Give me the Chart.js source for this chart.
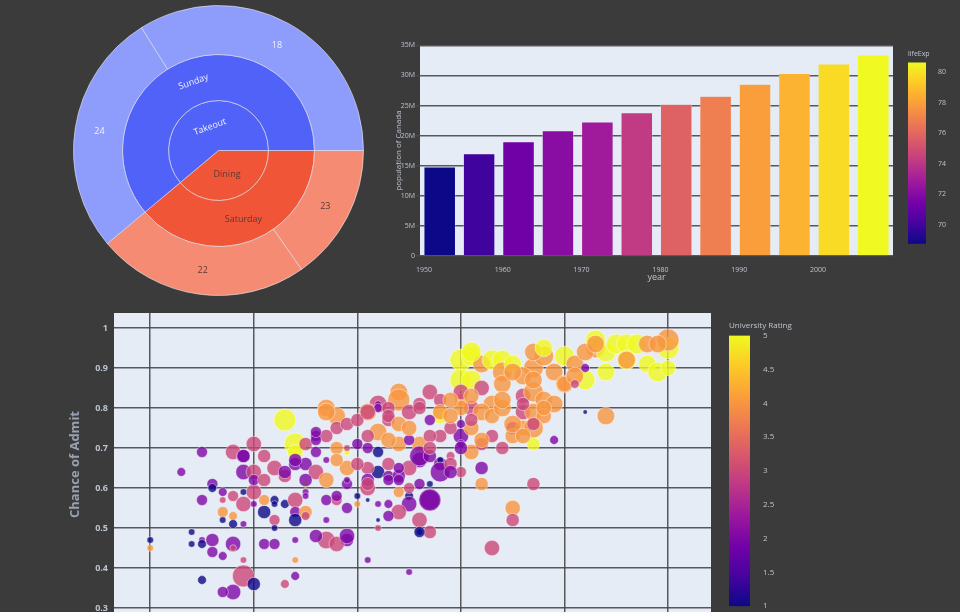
<!DOCTYPE html>
<html>
<head>
<meta charset="utf-8">
<script src="https://cdn.jsdelivr.net/npm/chart.js@4.4.1/dist/chart.umd.min.js"></script>
<style>
  html, body { margin: 0; padding: 0; background: #3b3b3b; width: 960px; height: 612px; overflow: hidden; }
  canvas { position: absolute; }
</style>
</head>
<body>
<canvas id="sunburst" width="291" height="291" style="left:73px;top:5px"></canvas>
<canvas id="popBars" width="520" height="280" style="left:380px;top:20px"></canvas>
<canvas id="lifeBar" width="52" height="206" style="left:908px;top:46px"></canvas>
<canvas id="admitScatter" width="700" height="330" style="left:40px;top:300px"></canvas>
<canvas id="ratingBar" width="80" height="300" style="left:729px;top:316px"></canvas>
<script>
// ---- sunburst: order type > day > leaf ----
const sunLeafLabels = ['23', '22', '24', '18'];
const sunLeafDay = ['Saturday', 'Saturday', 'Sunday', 'Sunday'];
const sunLeafValues = [15.3, 23.6, 27.2, 33.9];
const sunDays = ['Saturday', 'Sunday'];
const sunDayType = ['Dining', 'Takeout'];

// ---- Canada population (gapminder) ----
const canadaYears = [1952, 1957, 1962, 1967, 1972, 1977, 1982, 1987, 1992, 1997, 2002, 2007];
const canadaPop = [14785584, 17010154, 18985849, 20819767, 22284500, 23796400,
                   25201900, 26549700, 28523502, 30305843, 31902268, 33390141];
const canadaLifeExp = [68.75, 69.96, 71.3, 72.13, 72.88, 74.21, 75.76, 76.86, 77.95, 78.61, 79.77, 80.653];
const popTicks = [0, 5e6, 10e6, 15e6, 20e6, 25e6, 30e6, 35e6];
const yearTicks = [1950, 1960, 1970, 1980, 1990, 2000];
const lifeTicks = [70, 72, 74, 76, 78, 80];

// ---- admissions: GRE score, chance of admit, university rating, SOP ----
const admitGre = [
  290,290,295,293,296,296,297,295,297,298, 299,297,298,297,298,299,294,294,295,295,
  296,296,297,298,298,299,299,300,298,297, 295,301,302,304,304,304,303,301,302,302,
  302,301,303,304,304,304,305,305,300,299, 300,298,300,299,301,299,300,300,301,302,
  303,303,304,304,305,304,305,306,306,306, 307,307,308,308,307,308,309,309,309,309,
  307,308,306,307,307,308,310,310,310,309, 311,311,305,305,314,314,312,312,311,313,
  315,316,312,311,312,314,316,316,315,312, 313,314,311,311,314,312,313,315,315,317,
  316,314,313,312,312,316,315,309,320,320, 321,322,323,324,324,325,321,322,320,321,
  320,323,324,326,327,328,327,328,327,329, 330,331,332,330,329,332,332,334,333,334,
  334,335,336,337,338,339,340,340,340,338, 336,333,332,327,329,325,325,323,321,322,
  322,327,325,325,323,320,320,319,318,317, 317,312,318,316,318,317,319,320,317,317,
  316,322,321,323,324,326,327,328,326,327, 328,326,327,330,322,324,320,318,321,319,
  321,328,333,339,336,326,324,325,331,331, 321,325,327,320,317,320,318,318,322,326,
  303,304,306,306,307,309,310,308,307,305, 309,310,313,311,309,305,302,299,308,311,
  313,311,313,315,317,313,314,311,313,314, 319,319,316,317,315,314,316,315,318,319
];
const admitChance = [
  .47,.45,.69,.64,.61,.60,.59,.57,.57,.58, .56,.54,.53,.52,.51,.51,.49,.46,.47,.46,
  .47,.44,.43,.46,.45,.42,.38,.36,.34,.34, .37,.46,.46,.47,.42,.38,.36,.54,.52,.50,
  .57,.57,.56,.57,.54,.52,.54,.53,.59,.59, .56,.69,.71,.68,.68,.64,.64,.62,.62,.65,
  .63,.77,.71,.69,.71,.66,.66,.73,.69,.64, .62,.80,.78,.75,.73,.70,.65,.61,.55,.47,
  .47,.46,.48,.52,.57,.57,.58,.56,.71,.69, .42,.57,.61,.59,.84,.82,.81,.81,.79,.77,
  .79,.81,.74,.70,.69,.71,.71,.67,.65,.64, .63,.63,.65,.60,.59,.56,.56,.58,.56,.57,
  .52,.54,.53,.52,.50,.49,.39,.48,.92,.87, .93,.91,.92,.92,.89,.91,.87,.85,.82,.80,
  .84,.81,.86,.83,.84,.82,.90,.93,.94,.89, .93,.91,.87,.86,.81,.90,.79,.78,.95,.94,
  .89,.96,.96,.96,.91,.89,.95,.97,.90,.96, .92,.97,.94,.71,.72,.75,.73,.73,.69,.65,
  .61,.61,.55,.52,.45,.73,.71,.75,.78,.77, .84,.80,.73,.68,.66,.68,.68,.64,.57,.49,
  .49,.79,.75,.78,.80,.79,.79,.78,.75,.75, .80,.88,.87,.86,.71,.70,.80,.82,.83,.82,
  .94,.95,.96,.96,.92,.81,.82,.89,.88,.86, .77,.76,.76,.76,.73,.70,.67,.64,.72,.73,
  .64,.67,.72,.74,.79,.76,.77,.67,.67,.62, .70,.66,.72,.62,.62,.58,.56,.68,.58,.79,
  .80,.73,.78,.72,.70,.66,.65,.61,.62,.62, .66,.64,.61,.61,.60,.76,.80,.75,.79,.78
];
const admitRating = [
  1,4,2,2,2,1,2,2,3,3, 3,4,4,1,1,2,1,1,2,1,
  2,2,2,2,3,3,3,1,2,2, 1,2,2,2,4,2,3,1,3,1,
  1,4,1,3,2,1,4,3,3,1, 2,3,3,2,3,2,3,2,3,3,
  3,5,5,5,3,2,2,2,2,3, 4,4,4,3,3,4,4,2,2,2,
  3,3,2,2,2,3,1,4,2,5, 2,1,5,2,4,4,3,2,4,3,
  3,3,4,2,1,4,4,2,3,1, 2,2,3,3,4,2,2,1,2,2,
  3,3,2,1,3,1,2,2,5,5, 5,4,5,5,4,5,5,3,4,3,
  3,4,4,3,4,4,4,4,4,4, 5,4,5,4,4,2,1,4,4,5,
  5,5,5,5,5,5,5,4,5,4, 5,5,4,5,2,2,4,3,4,2,
  4,3,4,3,3,2,2,3,5,2, 3,2,3,2,2,2,3,3,2,3,
  1,4,4,4,4,3,4,4,4,4, 4,4,4,4,3,3,4,3,4,4,
  5,5,4,4,4,3,4,4,4,3, 3,4,3,2,3,2,1,2,4,4,
  2,2,2,2,4,3,3,4,2,2, 3,3,4,2,2,2,1,2,2,3,
  3,3,3,2,3,3,2,3,2,2, 3,2,2,1,3,4,3,4,4,4
];
const admitSop = [
  1.5,1.5,2.5,2,2.5,2,2,2.5,1.5,2.5, 3.5,2.5,2,1.5,2,1.5,1.5,1.5,1.5,2,
  3,2.5,2,3.5,1.5,1.5,5,3,3.5,2.5, 2,2.5,2.5,1.5,1.5,2,2,3,2.5,1.5,
  2,2.5,2,3.5,2.5,3,3,2,3.5,1.5, 1.5,3.5,3.5,3,3,3.5,3.5,2.5,3,3.5,
  3,5,5,3.5,3,3,3,2.5,2.5,3.5, 3.5,4,4,3,3,3,3.5,2.5,2.5,3,
  4,3.5,3,1.5,2.5,2.5,1.5,1.5,2.5,1.5, 1.5,1,1.5,1.5,4,5,4,1.5,4,3,
  3.5,3,4,2.5,2.5,3.5,3.5,3.5,3.5,3, 2.5,3,3,3.5,2.5,1.5,2,2,3.5,4.5,
  3.5,3.5,2.5,1,1.5,1.5,1.5,3.5,5,5, 4.5,4,4.5,4.5,4.5,4,4.5,3.5,3,3.5,
  3.5,4,4,3.5,4.5,4,4.5,4.5,4,4, 4.5,4,4.5,4,4,2,1,4,4.5,4.5,
  4,4.5,4.5,4.5,4,4.5,5,5,3.5,4, 4.5,4.5,4,3,2,3,3.5,3,3.5,3,
  3,3,3.5,3,3.5,3.5,2,3,3.5,2.5, 3.5,2,3,4.5,3,3,2,2.5,5,3,
  2.5,4,3.5,3.5,4,3.5,4,3.5,3.5,4.5, 3.5,4,4,3.5,3,3,3.5,3,3.5,3.5,
  4.5,4,4,4,4,3,4,4,4,2, 3,4,3,2,3,3,1.5,4.5,3.5,3.5,
  3,3,2.5,2.5,4,3,3,3,1.5,3, 1.5,3,3.5,3,1.5,1.5,1.5,3,2.5,3.5,
  3,3,3,2.5,3,3,2.5,3,2.5,2.5, 3,3,2.5,1.5,2.5,3.5,3,3.5,3.5,3.5
];
const greTicks = [290, 300, 310, 320, 330, 340];
const chanceTicks = [0.3, 0.4, 0.5, 0.6, 0.7, 0.8, 0.9, 1];
const ratingTicks = [1, 1.5, 2, 2.5, 3, 3.5, 4, 4.5, 5];

// ---- styles ----
const plasmaStops = ['#0d0887', '#46039f', '#7201a8', '#9c179e', '#bd3786',
                     '#d8576b', '#ed7953', '#fb9f3a', '#fdca26', '#f0f921'];
const fontFamily = '"Open Sans", "Liberation Sans", sans-serif';
const tickColor = '#bcc4d2';
const gridColor = 'rgba(72,72,72,0.9)';
const plotBgColor = '#e5ecf6';
const typeColors = { Dining: '#ef5536', Takeout: '#5062f8' };
const leafColors = { Dining: '#f68b74', Takeout: '#8e9cfb' };
const tangentialLabels = ['Takeout', 'Sunday'];
const plainNumber = v => String(Math.round(v * 100) / 100);

function hexToRgb(h) {
  return [parseInt(h.slice(1, 3), 16), parseInt(h.slice(3, 5), 16), parseInt(h.slice(5, 7), 16)];
}

function plasma(t, alpha) {
  t = Math.min(1, Math.max(0, t));
  const n = plasmaStops.length - 1;
  const i = Math.min(n - 1, Math.floor(t * n));
  const f = t * n - i;
  const a = hexToRgb(plasmaStops[i]), b = hexToRgb(plasmaStops[i + 1]);
  const c = a.map((v, k) => Math.round(v + (b[k] - v) * f));
  return 'rgba(' + c[0] + ',' + c[1] + ',' + c[2] + ',' + (alpha === undefined ? 1 : alpha) + ')';
}

const plotBg = {
  id: 'plotBg',
  beforeDraw(chart) {
    const a = chart.chartArea;
    const ctx = chart.ctx;
    ctx.save();
    ctx.fillStyle = plotBgColor;
    ctx.fillRect(a.left, a.top, a.width, a.height);
    ctx.restore();
  }
};

// ---- sunburst ----
const leafType = sunLeafDay.map(d => sunDayType[sunDays.indexOf(d)]);
const dayValues = sunDays.map(d => sunLeafValues.filter((v, i) => sunLeafDay[i] === d).reduce((s, v) => s + v, 0));
const typeValues = dayValues.slice();

const sunLabels = {
  id: 'sunLabels',
  afterDatasetsDraw(chart) {
    const ctx = chart.ctx;
    chart.data.datasets.forEach((ds, di) => {
      chart.getDatasetMeta(di).data.forEach((arc, i) => {
        const p = arc.getCenterPoint();
        const mid = (arc.startAngle + arc.endAngle) / 2;
        ctx.save();
        ctx.translate(p.x, p.y);
        if (tangentialLabels.includes(ds.names[i])) {
          let rot = mid + Math.PI / 2;
          while (rot > Math.PI) rot -= 2 * Math.PI;
          if (rot > Math.PI / 2) rot -= Math.PI;
          if (rot < -Math.PI / 2) rot += Math.PI;
          ctx.rotate(rot);
        }
        ctx.fillStyle = ds.textColors[i];
        ctx.font = ds.fontSize + 'px ' + fontFamily;
        ctx.textAlign = 'center';
        ctx.textBaseline = 'middle';
        ctx.fillText(ds.names[i], 0, 0);
        ctx.restore();
      });
    });
  }
};

const textOn = t => t === 'Takeout' ? '#f2f3ff' : '#5a3b36';
const ringBorder = 'rgba(235,235,240,0.6)';

new Chart(document.getElementById('sunburst'), {
  type: 'pie',
  data: {
    labels: sunLeafLabels,
    datasets: [
      { data: sunLeafValues, names: sunLeafLabels, weight: 49, fontSize: 9,
        backgroundColor: leafType.map(t => leafColors[t]), textColors: leafType.map(textOn),
        borderColor: ringBorder, borderWidth: 1 },
      { data: dayValues, names: sunDays, weight: 46, fontSize: 9,
        backgroundColor: sunDayType.map(t => typeColors[t]), textColors: sunDayType.map(textOn),
        borderColor: ringBorder, borderWidth: 1 },
      { data: typeValues, names: sunDayType, weight: 50, fontSize: 9,
        backgroundColor: sunDayType.map(t => typeColors[t]), textColors: sunDayType.map(textOn),
        borderColor: ringBorder, borderWidth: 1 }
    ]
  },
  options: {
    responsive: false,
    animation: false,
    rotation: 90,
    layout: { padding: 0 },
    plugins: { legend: { display: false }, tooltip: { enabled: false } }
  },
  plugins: [sunLabels]
});

// ---- population bars ----
const lifeMin = Math.min(...canadaLifeExp), lifeMax = Math.max(...canadaLifeExp);

new Chart(document.getElementById('popBars'), {
  type: 'bar',
  data: {
    datasets: [{
      data: canadaYears.map((y, i) => ({ x: y, y: canadaPop[i] })),
      backgroundColor: canadaLifeExp.map(v => plasma((v - lifeMin) / (lifeMax - lifeMin))),
      borderColor: plotBgColor,
      borderWidth: 0.5,
      barPercentage: 0.8,
      categoryPercentage: 1
    }]
  },
  options: {
    responsive: false,
    animation: false,
    layout: { padding: { top: 25, right: 7, left: 0, bottom: 0 } },
    plugins: { legend: { display: false }, tooltip: { enabled: false } },
    scales: {
      x: {
        type: 'linear', min: 1949.5, max: 2009.5, offset: false,
        afterBuildTicks: s => { s.ticks = yearTicks.map(v => ({ value: v })); },
        afterFit: s => { s.height = 44; },
        grid: { display: false }, border: { display: false },
        ticks: { color: tickColor, font: { family: fontFamily, size: 7 }, padding: 2, maxRotation: 0, callback: v => String(v) },
        title: { display: true, text: 'year', color: tickColor, font: { family: fontFamily, size: 9 }, padding: { top: 0, bottom: 17 } }
      },
      y: {
        min: 0, max: 35.06e6,
        afterBuildTicks: s => { s.ticks = popTicks.map(v => ({ value: v })); },
        afterFit: s => { s.width = 40; },
        grid: { color: gridColor, lineWidth: 1.5, tickLength: 4 },
        border: { display: false },
        ticks: { color: tickColor, font: { family: fontFamily, size: 7 }, padding: 1, callback: v => v === 0 ? '0' : (v / 1e6) + 'M' },
        title: { display: true, text: 'population of Canada', color: tickColor, font: { family: fontFamily, size: 8 }, padding: { top: 14, bottom: 0 } }
      }
    }
  },
  plugins: [plotBg]
});

// ---- colour bars ----
function makeColorbar(id, min, max, ticks, title, barWidth, fontSize, titlePad, labelPad, bottomPad) {
  const canvas = document.getElementById(id);
  return new Chart(canvas, {
    type: 'bar',
    data: {
      labels: [''],
      datasets: [{
        data: [[min, max]],
        barPercentage: 1, categoryPercentage: 1, borderWidth: 0,
        backgroundColor: c => {
          const a = c.chart.chartArea;
          if (!a) return plasmaStops[0];
          const g = c.chart.ctx.createLinearGradient(0, a.bottom, 0, a.top);
          plasmaStops.forEach((s, i) => g.addColorStop(i / (plasmaStops.length - 1), s));
          return g;
        }
      }]
    },
    options: {
      responsive: false,
      animation: false,
      layout: { padding: { top: 0, left: 0, right: 0, bottom: bottomPad } },
      plugins: {
        legend: { display: false }, tooltip: { enabled: false },
        title: { display: true, text: title, align: 'start', color: tickColor,
                 font: { family: fontFamily, size: fontSize, weight: 'normal' }, padding: titlePad }
      },
      scales: {
        x: { display: false },
        y: {
          position: 'right', min: min, max: max,
          afterBuildTicks: s => { s.ticks = ticks.map(v => ({ value: v })); },
          afterFit: s => { s.width = canvas.width - barWidth; },
          grid: { display: false }, border: { display: false },
          ticks: { color: tickColor, font: { family: fontFamily, size: fontSize }, padding: labelPad, callback: plainNumber }
        }
      }
    }
  });
}

makeColorbar('lifeBar', lifeMin, lifeMax, lifeTicks, 'lifeExp', 18, 7, { top: 4, bottom: 4 }, 4, 3);

// ---- admissions scatter ----
new Chart(document.getElementById('admitScatter'), {
  type: 'bubble',
  data: {
    datasets: [{
      data: admitGre.map((g, i) => ({ x: g, y: admitChance[i], r: admitSop[i] * 2.2 })),
      backgroundColor: admitRating.map(r => plasma((r - 1) / 4, 0.8)),
      borderColor: 'rgba(255,255,255,0.55)',
      borderWidth: 0.8
    }]
  },
  options: {
    responsive: false,
    animation: false,
    layout: { padding: { top: 13, right: 29, left: 0, bottom: 0 } },
    plugins: { legend: { display: false }, tooltip: { enabled: false } },
    scales: {
      x: {
        type: 'linear', min: 286.5, max: 344.15,
        afterBuildTicks: s => { s.ticks = greTicks.map(v => ({ value: v })); },
        afterFit: s => { s.height = 14; },
        grid: { color: gridColor, lineWidth: 1.5, drawTicks: false },
        border: { display: false },
        ticks: { color: tickColor, font: { family: fontFamily, size: 9 }, padding: 4, callback: plainNumber }
      },
      y: {
        min: 0.28, max: 1.0375,
        afterBuildTicks: s => { s.ticks = chanceTicks.map(v => ({ value: v })); },
        afterFit: s => { s.width = 74; },
        grid: { color: gridColor, lineWidth: 1.5, drawTicks: false },
        border: { display: false },
        ticks: { color: tickColor, font: { family: fontFamily, size: 9, weight: 'bold' }, padding: 6, callback: plainNumber },
        title: { display: true, text: 'Chance of Admit', color: '#98a1b1',
                 font: { family: fontFamily, size: 13, weight: 'bold' }, padding: { top: 27, bottom: 0 } }
      }
    }
  },
  plugins: [plotBg]
});

makeColorbar('ratingBar', 1, 5, ratingTicks, 'University Rating', 21, 8, { top: 5, bottom: 5 }, 5, 7);
</script>
</body>
</html>
